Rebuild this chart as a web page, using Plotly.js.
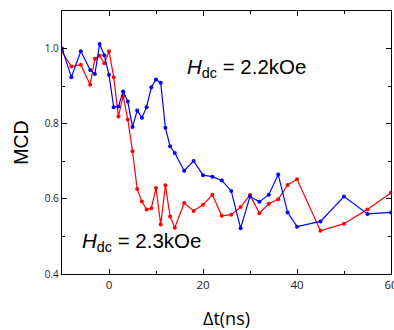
<!DOCTYPE html>
<html>
<head>
<meta charset="utf-8">
<script src="https://cdn.plot.ly/plotly-3.0.1.min.js"></script>
<style>html,body{margin:0;padding:0;background:#fff;}#chart{width:394px;height:330px;}</style>
</head>
<body>
<div id="chart"></div>
<script>
// Delay times (ns)
const tBlue = [-10, -8, -6, -4, -3, -2, -1, 0, 1, 2, 3, 4, 5, 6, 7, 8, 9, 10, 11, 12, 13, 14, 16, 18, 20, 22, 24, 26, 28, 30, 32, 34, 36, 38, 40, 45, 50, 55, 60];
const mcdBlue = [1.0, 0.924, 0.993, 0.943, 0.932, 1.012, 0.982, 0.930, 0.844, 0.846, 0.886, 0.859, 0.791, 0.835, 0.816, 0.844, 0.897, 0.918, 0.909, 0.789, 0.740, 0.722, 0.675, 0.701, 0.663, 0.659, 0.649, 0.621, 0.522, 0.606, 0.592, 0.611, 0.665, 0.564, 0.526, 0.540, 0.606, 0.560, 0.564];
const tRed = [-10, -8, -6, -4, -3, -2, -1, 0, 1, 2, 3, 4, 5, 6, 7, 8, 9, 10, 11, 12, 13, 14, 16, 18, 20, 22, 24, 26, 28, 30, 32, 34, 36, 38, 40, 45, 50, 55, 60];
const mcdRed = [0.992, 0.952, 0.957, 0.904, 0.973, 0.981, 0.961, 0.993, 0.924, 0.819, 0.874, 0.811, 0.727, 0.626, 0.593, 0.572, 0.575, 0.629, 0.532, 0.636, 0.553, 0.523, 0.589, 0.568, 0.584, 0.611, 0.555, 0.558, 0.578, 0.610, 0.562, 0.587, 0.599, 0.637, 0.652, 0.515, 0.534, 0.572, 0.616];
const xTicks = [0, 20, 40, 60];
const yTicks = [0.4, 0.6, 0.8, 1.0];
const yTickText = ['0.4', '0.6', '0.8', '1.0'];
const labelBlue = '<i>H</i><sub>dc</sub> = 2.2kOe';
const labelRed = '<i>H</i><sub>dc</sub> = 2.3kOe';

const traces = [
  {x: tRed, y: mcdRed, type: 'scatter', mode: 'lines+markers', name: '2.3kOe',
   line: {color: '#ff0000', width: 1.2}, marker: {color: '#ff0000', size: 4}, cliponaxis: true},
  {x: tBlue, y: mcdBlue, type: 'scatter', mode: 'lines+markers', name: '2.2kOe',
   line: {color: '#0000ff', width: 1.2}, marker: {color: '#0000ff', size: 4}, cliponaxis: true}
];

const axisCommon = {
  showline: true, linecolor: '#000', linewidth: 1.2, mirror: 'ticks',
  ticks: 'inside', ticklen: 5, tickwidth: 1, tickcolor: '#000',
  showgrid: false, zeroline: false, automargin: false, ticklabeloverflow: 'allow'
};

const layout = {
  width: 394, height: 330,
  margin: {l: 62, r: 3, t: 11, b: 56},
  paper_bgcolor: '#fff', plot_bgcolor: '#fff',
  showlegend: false,
  font: {family: 'Liberation Sans, Arial, sans-serif', color: '#000'},
  xaxis: Object.assign({}, axisCommon, {
    range: [-10, 60], tickvals: xTicks, ticktext: xTicks.map(String),
    tickfont: {size: 11.5, color: '#222', family: 'Open Sans, sans-serif'},
    minor: {dtick: 10, tick0: 0, ticks: 'inside', ticklen: 3, tickcolor: '#000'},
    title: {text: 'Δt(ns)', font: {size: 18, family: 'Open Sans, sans-serif'}, standoff: 24}
  }),
  yaxis: Object.assign({}, axisCommon, {
    range: [0.4, 1.1], tickvals: yTicks, ticktext: yTickText,
    tickfont: {size: 10, color: '#222', family: 'Open Sans, sans-serif'},
    minor: {dtick: 0.1, tick0: 0.4, ticks: 'inside', ticklen: 3, tickcolor: '#000'},
    title: {text: 'MCD', font: {size: 19.5, family: 'Liberation Sans, Arial, sans-serif'}, standoff: 11}
  }),
  annotations: [
    {text: labelBlue, xref: 'paper', yref: 'paper', x: 0.56, y: 0.785, xanchor: 'center', yanchor: 'middle',
     showarrow: false, font: {size: 20.5, family: 'Liberation Sans, Arial, sans-serif', color: '#000'}},
    {text: labelRed, xref: 'paper', yref: 'paper', x: 0.243, y: 0.12, xanchor: 'center', yanchor: 'middle',
     showarrow: false, font: {size: 20.5, family: 'Liberation Sans, Arial, sans-serif', color: '#000'}}
  ]
};

Plotly.newPlot('chart', traces, layout, {staticPlot: true, displayModeBar: false});
</script>
</body>
</html>
